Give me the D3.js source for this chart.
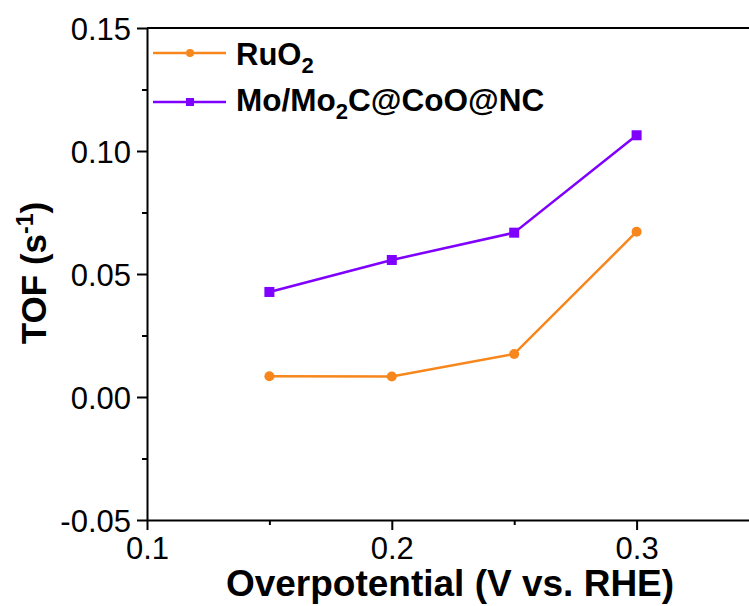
<!DOCTYPE html>
<html>
<head>
<meta charset="utf-8">
<script src="https://cdn.jsdelivr.net/npm/d3@7"></script>
<style>
body { margin: 0; background: #fff; overflow: hidden; }
text { font-family: "Liberation Sans", Arial, sans-serif; }
</style>
</head>
<body>
<div id="chart"></div>
<script>
// data
var overpotential = [0.15, 0.2, 0.25, 0.3];
var ruo2 = [0.0084, 0.0083, 0.0175, 0.0672];
var moc = [0.0427, 0.0557, 0.0668, 0.1064];
var xTicks = [0.1, 0.2, 0.3];
var yTicks = [-0.05, 0, 0.05, 0.10, 0.15];

var W = 749, H = 606;
var margin = {top: 28, right: -10, bottom: 86, left: 147};
var width = W - margin.left - margin.right,
height = H - margin.top - margin.bottom;

var orange = "#F7861C", purple = "#7F00FF";

var svg = d3.select("#chart")
.append("svg")
.attr("width", W)
.attr("height", H);

var g = svg.append("g")
.attr("transform", "translate(" + margin.left + "," + margin.top + ")");

var x = d3.scaleLinear().domain([0.1, 0.35]).range([0, width]);
var y = d3.scaleLinear().domain([-0.05, 0.15]).range([height, 0]);

// minor ticks
g.append("g")
.attr("transform", "translate(0," + height + ")")
.call(d3.axisBottom(x).tickValues([0.15, 0.25]).tickSize(5).tickFormat(""))
.call(function (a) { a.select(".domain").remove(); a.selectAll("line").attr("stroke-width", 2); });
g.append("g")
.call(d3.axisLeft(y).tickValues([-0.025, 0.025, 0.075, 0.125]).tickSize(5).tickFormat(""))
.call(function (a) { a.select(".domain").remove(); a.selectAll("line").attr("stroke-width", 2); });

// X axis
var xa = g.append("g")
.attr("transform", "translate(0," + height + ")")
.call(d3.axisBottom(x).tickValues(xTicks).tickSize(10).tickSizeOuter(0).tickFormat(d3.format(".1f")));
xa.selectAll("text").attr("font-size", 31).attr("dy", "0.72em").attr("y", 17).attr("fill", "#000");

// Y axis, plain hyphen for the minus sign
var ya = g.append("g")
.call(d3.axisLeft(y).tickValues(yTicks).tickSize(10).tickSizeOuter(0)
.tickFormat(function (d) { return d3.format(".2f")(d).replace("\u2212", "-"); }));
ya.selectAll("text").attr("font-size", 31).attr("x", -16).attr("dy", "0.36em").attr("fill", "#000");

[xa, ya].forEach(function (a) {
a.select(".domain").attr("stroke-width", 2);
a.selectAll("line").attr("stroke-width", 2);
});

// top frame line
g.append("line")
.attr("x1", 0).attr("x2", width)
.attr("y1", 0).attr("y2", 0)
.attr("stroke", "#000").attr("stroke-width", 2);

// lines
var line = d3.line()
.x(function (d, i) { return x(overpotential[i]); })
.y(function (d) { return y(d); });

g.append("path").datum(ruo2)
.attr("fill", "none").attr("stroke", orange).attr("stroke-width", 2.5)
.attr("d", line);
g.append("path").datum(moc)
.attr("fill", "none").attr("stroke", purple).attr("stroke-width", 2.5)
.attr("d", line);

// points
g.append("g").selectAll("circle")
.data(ruo2).enter().append("circle")
.attr("cx", function (d, i) { return x(overpotential[i]); })
.attr("cy", function (d) { return y(d); })
.attr("r", 5).attr("fill", orange);
g.append("g").selectAll("rect")
.data(moc).enter().append("rect")
.attr("x", function (d, i) { return x(overpotential[i]) - 5; })
.attr("y", function (d) { return y(d) - 5; })
.attr("width", 10).attr("height", 10).attr("fill", purple);

// legend
var leg = g.append("g");
var legRows = [{c: orange, y: 25, shape: "circle"}, {c: purple, y: 74, shape: "rect"}];
legRows.forEach(function (r) {
leg.append("line").attr("x1", 6).attr("x2", 79).attr("y1", r.y).attr("y2", r.y)
.attr("stroke", r.c).attr("stroke-width", 2.5);
if (r.shape === "circle") {
leg.append("circle").attr("cx", 43).attr("cy", r.y).attr("r", 4).attr("fill", r.c);
} else {
leg.append("rect").attr("x", 39).attr("y", r.y - 4).attr("width", 8).attr("height", 8).attr("fill", r.c);
}
});
var t1 = leg.append("text").attr("x", 89).attr("y", 37)
.attr("font-size", 31).attr("font-weight", "bold");
t1.append("tspan").text("RuO");
t1.append("tspan").text("2").attr("font-size", 22).attr("dy", 8);

var t2 = leg.append("text").attr("x", 89).attr("y", 83)
.attr("font-size", 31.5).attr("font-weight", "bold");
t2.append("tspan").text("Mo/Mo");
t2.append("tspan").text("2").attr("font-size", 22).attr("dy", 8);
t2.append("tspan").text("C@CoO@NC").attr("dy", -8);

// axis titles
svg.append("text")
.attr("x", 450).attr("y", 596)
.attr("text-anchor", "middle")
.attr("font-size", 37).attr("font-weight", "bold")
.text("Overpotential (V vs. RHE)");

var yt = svg.append("text")
.attr("transform", "translate(46,273) rotate(-90)")
.attr("text-anchor", "middle")
.attr("font-size", 35).attr("font-weight", "bold");
yt.append("tspan").text("TOF (s");
yt.append("tspan").text("-1").attr("font-size", 23).attr("dy", -13);
yt.append("tspan").text(")").attr("dy", 13);
</script>
</body>
</html>
